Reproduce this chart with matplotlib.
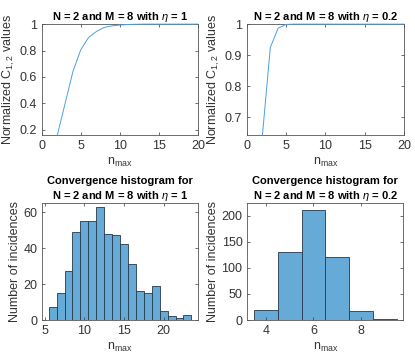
import matplotlib
matplotlib.use("Agg")
import matplotlib.pyplot as plt
import numpy as np
from matplotlib.ticker import FuncFormatter

plt.rcParams['font.family'] = ['Liberation Sans', 'DejaVu Sans']
plt.rcParams['mathtext.fontset'] = 'custom'
plt.rcParams['mathtext.rm'] = 'Liberation Sans'
plt.rcParams['mathtext.it'] = 'Liberation Sans:italic'
plt.rcParams['mathtext.bf'] = 'Liberation Sans:bold'

# ---- data ----
n_eta1 = [2, 3, 4, 5, 6, 7, 8, 9, 10, 11, 12, 13, 14, 15, 16, 17, 18, 19, 20]
c_eta1 = [0.16, 0.40, 0.642, 0.806, 0.899, 0.944, 0.975, 0.987, 0.993, 0.997,
          0.999, 1.0, 1.0, 1.0, 1.0, 1.0, 1.0, 1.0, 1.0]
n_eta02 = [2, 3, 4, 5, 6, 7, 8, 9, 10, 11, 12, 13, 14, 15, 16, 17, 18, 19, 20]
c_eta02 = [0.643, 0.925, 0.987, 0.999, 1.0, 1.0, 1.0, 1.0, 1.0, 1.0, 1.0,
           1.0, 1.0, 1.0, 1.0, 1.0, 1.0, 1.0, 1.0]

hist1_bins = [6, 7, 8, 9, 10, 11, 12, 13, 14, 15, 16, 17, 18, 19, 20, 21, 22, 23]
hist1_counts = [7, 15, 27, 49, 55, 55, 63, 48, 47, 42, 31, 16, 15, 19, 5, 2, 1, 3]
hist2_bins = [4, 5, 6, 7, 8, 9]
hist2_counts = [19, 131, 211, 121, 17, 2]

title1 = r'N = 2 and M = 8 with $\eta$ = 1'
title2 = r'N = 2 and M = 8 with $\eta$ = 0.2'
title3 = 'Convergence histogram for\n' + r'N = 2 and M = 8 with $\eta$ = 1'
title4 = 'Convergence histogram for\n' + r'N = 2 and M = 8 with $\eta$ = 0.2'
ylab_top = r'Normalized C$_{1,2}$ values'
ylab_bot = 'Number of incidences'
xlab = r'n$_{\mathrm{max}}$'

AX_COL = '#333333'
LINE_COL = '#4d9fe0'
FACE = (0.4, 0.668, 0.845)
EDGE = '#26384a'
FS = 9
TFS = 8.0

fig = plt.figure(figsize=(4.15, 3.6), dpi=100)

def style(ax):
    for s in ax.spines.values():
        s.set_color('#555555')
        s.set_linewidth(0.6)
    ax.tick_params(direction='in', length=2.5, width=0.5, colors=AX_COL,
                   labelsize=FS, top=True, right=True, pad=3.5)
    ax.yaxis.set_major_formatter(FuncFormatter(lambda v, p: '%g' % round(v, 6)))
    ax.xaxis.set_major_formatter(FuncFormatter(lambda v, p: '%g' % round(v, 6)))

ax1 = fig.add_axes([0.1005, 0.625, 0.3766, 0.308])
ax1.plot(n_eta1, c_eta1, color=LINE_COL, lw=0.7, zorder=3, clip_on=False)
ax1.set_xlim(0, 20)
ax1.set_ylim(0.16, 1.0)
ax1.set_xticks([0, 5, 10, 15, 20])
ax1.set_yticks([0.2, 0.4, 0.6, 0.8, 1.0])
style(ax1)
ax1.set_title(title1, fontsize=TFS, fontweight='bold', pad=3)
ax1.set_ylabel(ylab_top, fontsize=FS, color=AX_COL, labelpad=2)
ax1.set_xlabel(xlab, fontsize=FS, color=AX_COL, labelpad=3)

ax2 = fig.add_axes([0.5945, 0.625, 0.379, 0.308])
ax2.plot(n_eta02, c_eta02, color=LINE_COL, lw=0.7, zorder=3, clip_on=False)
ax2.set_xlim(0, 20)
ax2.set_ylim(0.643, 1.0)
ax2.set_xticks([0, 5, 10, 15, 20])
ax2.set_yticks([0.7, 0.8, 0.9, 1.0])
style(ax2)
ax2.set_title(title2, fontsize=TFS, fontweight='bold', pad=3)
ax2.set_ylabel(ylab_top, fontsize=FS, color=AX_COL, labelpad=2)
ax2.set_xlabel(xlab, fontsize=FS, color=AX_COL, labelpad=3)

ax3 = fig.add_axes([0.102, 0.111, 0.3745, 0.325])
ax3.bar(hist1_bins, hist1_counts, width=1.0, color=FACE, edgecolor=EDGE, linewidth=0.6)
ax3.set_xlim(4.7, 24.3)
ax3.set_ylim(0, 65)
ax3.set_xticks([5, 10, 15, 20])
ax3.set_yticks([0, 20, 40, 60])
style(ax3)
ax3.set_title(title3, fontsize=TFS, fontweight='bold', pad=3, linespacing=1.3)
ax3.set_ylabel(ylab_bot, fontsize=FS, color=AX_COL, labelpad=2)
ax3.set_xlabel(xlab, fontsize=FS, color=AX_COL, labelpad=3)

ax4 = fig.add_axes([0.596, 0.111, 0.376, 0.325])
ax4.bar(hist2_bins, hist2_counts, width=1.0, color=FACE, edgecolor=EDGE, linewidth=0.6)
ax4.set_xlim(3.23, 9.77)
ax4.set_ylim(0, 224)
ax4.set_xticks([4, 6, 8])
ax4.set_yticks([0, 50, 100, 150, 200])
style(ax4)
ax4.set_title(title4, fontsize=TFS, fontweight='bold', pad=3, linespacing=1.3)
ax4.set_ylabel(ylab_bot, fontsize=FS, color=AX_COL, labelpad=2)
ax4.set_xlabel(xlab, fontsize=FS, color=AX_COL, labelpad=3)

fig.savefig('out.png', dpi=100)
